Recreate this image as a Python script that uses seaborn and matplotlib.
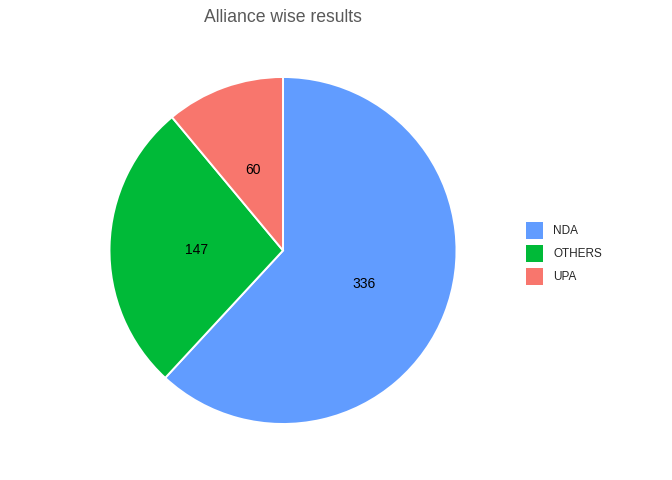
import matplotlib
matplotlib.use("Agg")
import matplotlib.pyplot as plt
from matplotlib.patches import Patch
import seaborn as sns

alliances = ["NDA", "OTHERS", "UPA"]
seats = [336, 147, 60]
colors = ["#619CFF", "#00BA38", "#F8766D"]

sns.set_theme(style="white")
plt.rcParams["font.family"] = ["Liberation Sans", "DejaVu Sans"]

fig = plt.figure(figsize=(6.72, 4.8), dpi=100)
fig.patch.set_facecolor("white")
cx, cy, r = 283, 250.5, 173.5
ax = fig.add_axes([(cx - r) / 672, (480 - cy - r) / 480, 2 * r / 672, 2 * r / 480])

total = sum(seats)
wedges, texts, autotexts = ax.pie(
    seats,
    colors=sns.color_palette(colors),
    startangle=90,
    counterclock=False,
    autopct=lambda p: f"{round(p * total / 100)}",
    pctdistance=0.5,
    wedgeprops=dict(edgecolor="white", linewidth=1.4),
    textprops=dict(fontsize=10, color="black"),
)
for t in autotexts:
    t.set_va("center_baseline")
ax.set_xlim(-1, 1)
ax.set_ylim(-1, 1)
ax.set_aspect("equal")
ax.axis("off")

fig.text(283 / 672, 1 - 17 / 480, "Alliance wise results", ha="center", va="center",
         fontsize=12.7, color="#595959")

handles = [Patch(facecolor=c, edgecolor="none") for c in colors]
fig.legend(handles, alliances, loc="center left", bbox_to_anchor=(526 / 672, 226.5 / 480),
           frameon=False, fontsize=8.5, handlelength=1.44, handleheight=1.84,
           handletextpad=0.85, labelspacing=0.5, borderpad=0, borderaxespad=0)

fig.savefig("out.png", dpi=100, facecolor="white")
